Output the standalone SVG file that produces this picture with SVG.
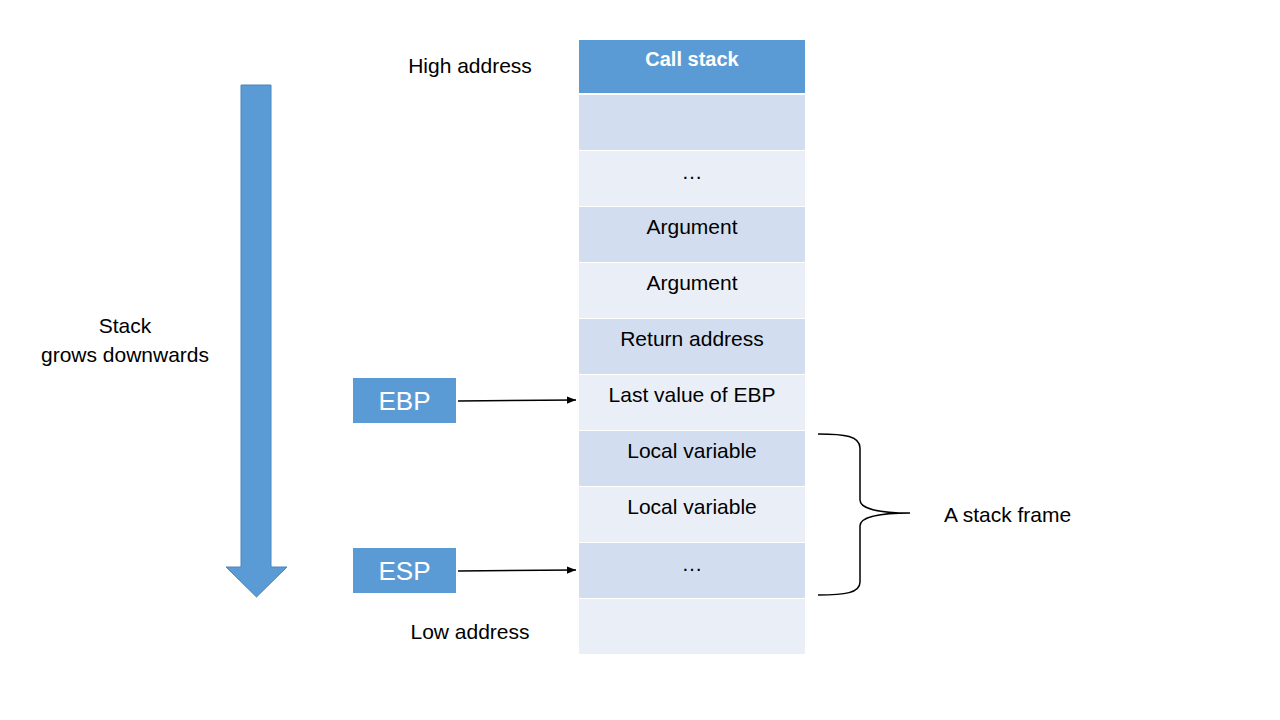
<svg xmlns="http://www.w3.org/2000/svg" width="1280" height="720" viewBox="0 0 1280 720">
<defs>
<style>
text{font-family:"Liberation Sans",Arial,sans-serif;fill:#000}
.lbl{font-size:21px}
.cell{font-size:21px;text-anchor:middle}
.dark{fill:#D2DEEF}
.light{fill:#EAEFF7}
.reg{fill:#5B9BD5}
.regt{font-size:26px;fill:#fff;text-anchor:middle}
.conn{stroke:#000;stroke-width:1.5;fill:none}
</style>
<marker id="ah" viewBox="0 0 10 10" refX="10" refY="5" markerWidth="6" markerHeight="6" markerUnits="strokeWidth" orient="auto">
<path d="M0,1 L10,5 L0,9 z" fill="#000"/>
</marker>
</defs>
<rect width="1280" height="720" fill="#fff"/>

<g id="growth-arrow">
<path d="M241,85 H271 V567 H287 L256.5,597 L226,567 H241 Z" fill="#5B9BD5" stroke="#4A86BE" stroke-width="1"/>
<text class="lbl" x="125" y="333" text-anchor="middle">Stack</text>
<text class="lbl" x="125" y="362" text-anchor="middle">grows downwards</text>
</g>

<g id="high-address"><text class="lbl" x="470" y="73" text-anchor="middle">High address</text></g>
<g id="low-address"><text class="lbl" x="470" y="639" text-anchor="middle">Low address</text></g>

<g id="call-stack">
<rect class="reg" x="579" y="40" width="226" height="53"/>
<text x="692" y="66" font-size="20" font-weight="bold" text-anchor="middle" style="fill:#fff">Call stack</text>
<rect class="dark" x="579" y="95" width="226" height="55"/>
<rect class="light" x="579" y="151" width="226" height="55"/>
<text class="cell" x="692" y="179">…</text>
<rect class="dark" x="579" y="207" width="226" height="55"/>
<text class="cell" x="692" y="234">Argument</text>
<rect class="light" x="579" y="263" width="226" height="55"/>
<text class="cell" x="692" y="290">Argument</text>
<rect class="dark" x="579" y="319" width="226" height="55"/>
<text class="cell" x="692" y="346">Return address</text>
<rect class="light" x="579" y="375" width="226" height="55"/>
<text class="cell" x="692" y="402">Last value of EBP</text>
<rect class="dark" x="579" y="431" width="226" height="55"/>
<text class="cell" x="692" y="458">Local variable</text>
<rect class="light" x="579" y="487" width="226" height="55"/>
<text class="cell" x="692" y="514">Local variable</text>
<rect class="dark" x="579" y="543" width="226" height="55"/>
<text class="cell" x="692" y="571">…</text>
<rect class="light" x="579" y="599" width="226" height="55"/>
</g>

<g id="ebp">
<rect class="reg" x="353" y="378" width="103" height="45"/>
<text class="regt" x="404.5" y="410">EBP</text>
</g>
<g id="esp">
<rect class="reg" x="353" y="548" width="103" height="45"/>
<text class="regt" x="404.5" y="580">ESP</text>
</g>

<g id="stack-frame">
<path class="conn" d="M818,434 C845,434 860,436 860,448 V500 C860,509 880,513 910,513 C880,513 860,517 860,526 V582 C860,593 845,595 818,595"/>
<text class="lbl" x="944" y="522">A stack frame</text>
</g>

<g id="connectors">
<line class="conn" x1="458" y1="401" x2="576" y2="400" marker-end="url(#ah)"/>
<line class="conn" x1="458" y1="571" x2="576" y2="570" marker-end="url(#ah)"/>
</g>
</svg>
